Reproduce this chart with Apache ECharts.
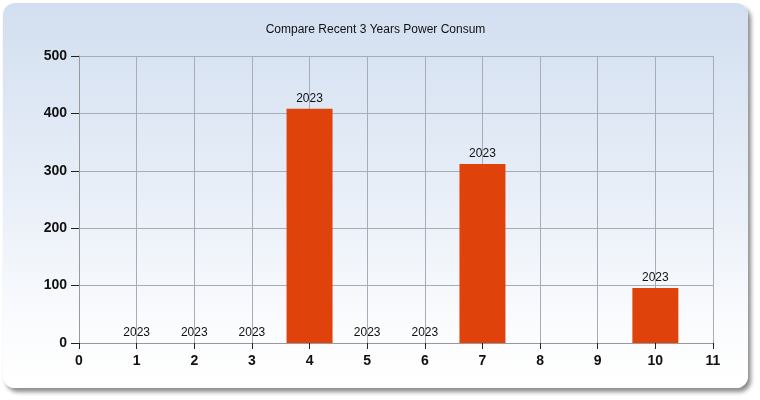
<!DOCTYPE html>
<html><head><meta charset="utf-8">
<script src="https://cdn.jsdelivr.net/npm/echarts@6/dist/echarts.min.js"></script>
<style>
html,body{margin:0;padding:0;background:#fff;width:760px;height:400px;overflow:hidden}
#frame{position:absolute;left:3px;top:3px;width:745px;height:385px;border-radius:12px;
background:linear-gradient(to bottom,#d2dff0 0%,#e6edf7 45%,#fbfcfe 85%,#ffffff 100%);
box-shadow:3px 4px 4px rgba(0,0,0,0.45)}
#chart{position:absolute;left:0;top:0;width:745px;height:385px}
</style></head>
<body><div id="frame"><div id="chart"></div></div>
<script>
var title = 'Compare Recent 3 Years Power Consum';
var xPositions = [1, 2, 3, 4, 5, 6, 7, 10];
var values = [0, 0, 0, 408, 0, 0, 312, 96];
var barLabels = ['2023', '2023', '2023', '2023', '2023', '2023', '2023', '2023'];

var data = xPositions.map(function (x, i) { return { value: [x, values[i]], name: barLabels[i] }; });

var chart = echarts.init(document.getElementById('chart'));
var axisFont = { fontFamily: 'Liberation Sans, Arial, sans-serif', fontSize: 14, fontWeight: 'bold', color: '#111' };
chart.setOption({
  backgroundColor: 'transparent',
  animation: false,
  title: { text: title, left: 'center', top: 16,
    textStyle: { fontFamily: 'Liberation Sans, Arial, sans-serif', fontSize: 12, fontWeight: 'normal', color: '#111' } },
  grid: { left: 76, top: 53, right: 35, bottom: 45, containLabel: false },
  xAxis: { type: 'value', min: 0, max: 11, interval: 1,
    axisLine: { show: true, lineStyle: { color: '#999', width: 1 } },
    axisTick: { show: true, length: 6, lineStyle: { color: '#222' } },
    axisLabel: Object.assign({ margin: 11 }, axisFont),
    splitLine: { show: true, lineStyle: { color: '#a6adb9', width: 1 } } },
  yAxis: { type: 'value', min: 0, max: 500, interval: 100,
    axisLine: { show: true, lineStyle: { color: '#999', width: 1 } },
    axisTick: { show: true, length: 8, lineStyle: { color: '#222' } },
    axisLabel: Object.assign({ margin: 12 }, axisFont),
    splitLine: { show: true, lineStyle: { color: '#a6adb9', width: 1 } } },
  series: [{
    type: 'bar', data: data, barWidth: 46,
    itemStyle: { color: '#e0420b' },
    label: { show: true, position: 'top', distance: 4, formatter: '{b}',
      fontFamily: 'Liberation Sans, Arial, sans-serif', fontSize: 12, color: '#111' }
  }]
});
</script></body></html>
